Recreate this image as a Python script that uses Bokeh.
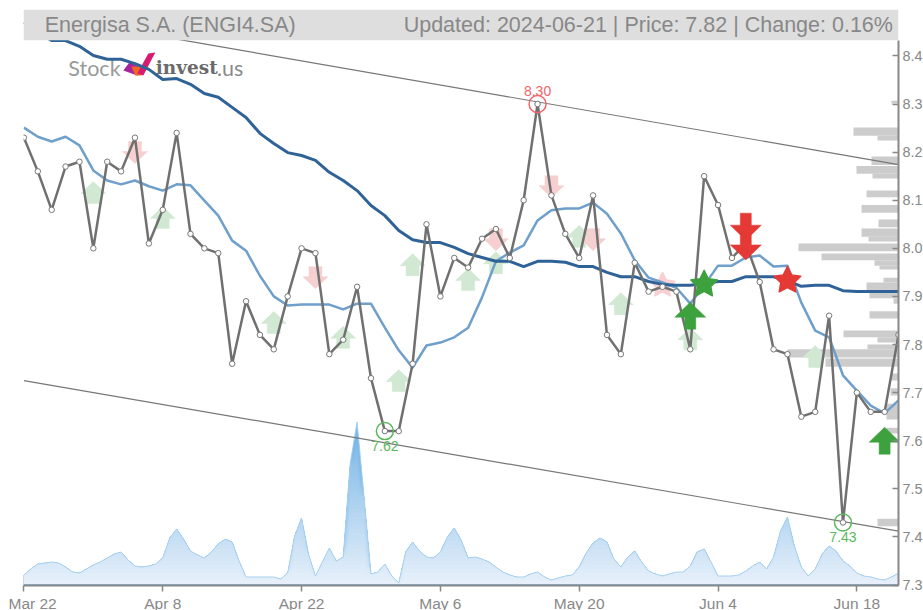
from bokeh.plotting import figure
from bokeh.embed import file_html
from bokeh.resources import INLINE
from bokeh.core.properties import value
from bokeh.models import Range1d, FixedTicker, BoxAnnotation, Label, NumeralTickFormatter
import numpy as np

tick_days = [0, 10, 20, 30, 40, 50, 60]
tick_labels = ["Mar 22", "Apr 8", "Apr 22", "May 6", "May 20", "Jun 4", "Jun 18"]
price_ticks = [7.3, 7.4, 7.5, 7.6, 7.7, 7.8, 7.9, 8.0, 8.1, 8.2, 8.3, 8.4]

price = [8.23, 8.16, 8.08, 8.17, 8.18, 8.00, 8.18, 8.16, 8.23, 8.01, 8.08, 8.24, 8.03, 8.00, 7.99, 7.76,
         7.89, 7.82, 7.79, 7.90, 8.00, 7.99, 7.78, 7.81, 7.92, 7.73, 7.62, 7.62, 7.76, 8.05, 7.90, 7.98,
         7.96, 8.02, 8.04, 7.98, 8.10, 8.30, 8.11, 8.03, 7.98, 8.11, 7.82, 7.78, 7.97, 7.91, 7.92, 7.91,
         7.79, 8.15, 8.09, 7.98, 8.01, 7.93, 7.79, 7.78, 7.65, 7.66, 7.86, 7.43, 7.70, 7.66, 7.66, 7.82]

ma_short = [8.251, 8.232, 8.222, 8.232, 8.214, 8.162, 8.141, 8.133, 8.141, 8.129, 8.120, 8.133, 8.131, 8.099, 8.068, 8.016,
            7.995, 7.943, 7.900, 7.881, 7.883, 7.883, 7.883, 7.873, 7.885, 7.885, 7.835, 7.788, 7.752, 7.798, 7.804, 7.815,
            7.835, 7.898, 7.973, 7.991, 8.006, 8.058, 8.079, 8.083, 8.083, 8.095, 8.072, 8.031, 7.975, 7.939, 7.929, 7.918,
            7.885, 7.923, 7.964, 7.964, 7.981, 7.985, 7.962, 7.964, 7.887, 7.829, 7.815, 7.736, 7.704, 7.673, 7.657, 7.684]

ma_long = [8.47, 8.45, 8.432, 8.432, 8.420, 8.401, 8.393, 8.393, 8.384, 8.372, 8.351, 8.353, 8.341, 8.322, 8.314, 8.293,
           8.272, 8.239, 8.218, 8.199, 8.193, 8.183, 8.158, 8.141, 8.120, 8.089, 8.068, 8.037, 8.018, 8.012, 8.012, 8.002,
           7.989, 7.981, 7.973, 7.973, 7.962, 7.973, 7.973, 7.971, 7.962, 7.962, 7.950, 7.941, 7.941, 7.931, 7.925, 7.923,
           7.923, 7.927, 7.931, 7.931, 7.941, 7.941, 7.941, 7.933, 7.921, 7.923, 7.923, 7.912, 7.910, 7.910, 7.910, 7.910]

channel_days = [0, 63]
channel_upper = [8.490, 8.174]
channel_lower = [7.725, 7.412]

# daily volume, sampled every half day
volume = [10, 16, 21, 22, 23, 22, 18, 13, 12, 16, 20, 23, 27, 31, 33, 25, 19, 18, 19, 21, 27, 47, 56, 46, 34, 30, 27, 33,
          41, 46, 43, 24, 8, 8, 8, 8, 8, 6, 12, 49, 67, 31, 9, 23, 37, 24, 28, 121, 163, 88, 11, 13, 21, 9, 2, 33, 43, 34,
          28, 27, 33, 48, 57, 45, 27, 28, 26, 23, 18, 13, 10, 8, 8, 11, 13, 8, 5, 7, 9, 10, 18, 32, 42, 47, 43, 26, 18, 28,
          34, 23, 14, 11, 9, 11, 13, 13, 19, 33, 36, 23, 9, 9, 9, 10, 14, 19, 23, 16, 28, 54, 68, 39, 18, 9, 16, 31, 39, 34,
          24, 19, 12, 9, 8, 6, 5, 8, 12]

# volume-by-price profile
profile_low = [8.301, 8.234, 8.224, 8.173, 8.155, 8.145, 8.106, 8.074, 8.044, 8.024, 8.014, 7.994, 7.975, 7.964, 7.956,
               7.929, 7.912, 7.896, 7.885, 7.854, 7.815, 7.804, 7.790, 7.773, 7.754, 7.725, 7.694, 7.644, 7.615, 7.422]
profile_high = [8.307, 8.251, 8.234, 8.191, 8.171, 8.155, 8.120, 8.090, 8.060, 8.041, 8.024, 8.010, 7.989, 7.975, 7.964,
                7.939, 7.929, 7.912, 7.896, 7.869, 7.829, 7.815, 7.800, 7.790, 7.771, 7.740, 7.709, 7.677, 7.627, 7.438]
profile_size = [7, 45, 21, 27, 42, 26, 32, 37, 20, 37, 30, 100, 77, 24, 19, 15, 32, 29, 5, 29, 55, 21, 31, 111, 73, 8, 8, 12, 12, 21]

pale_up_days = [5, 10, 18, 23, 27, 28, 32, 34, 40, 43, 48, 57]
pale_up_price = [8.116, 8.064, 7.846, 7.815, 7.725, 7.966, 7.935, 7.970, 8.025, 7.885, 7.812, 7.775]
pale_down_days = [8, 21, 34, 38, 41]
pale_down_price = [8.199, 7.939, 8.018, 8.128, 8.018]
strong_down_days = [52, 52]
strong_down_price = [8.045, 8.004]
strong_up_days = [48, 62]
strong_up_price = [7.860, 7.600]
pale_star_days = [46]
pale_star_price = [7.923]
green_star_days = [49]
green_star_price = [7.925]
red_star_days = [55]
red_star_price = [7.933]

high_days = [37]
high_price = [8.30]
high_text = ["8.30"]
low_days = [26, 59]
low_price = [7.62, 7.43]
low_text = ["7.62", "7.43"]

title_left = "Energisa S.A. (ENGI4.SA)"
title_right = "Updated: 2024-06-21 | Price: 7.82 | Change: 0.16%"

# ---------------------------------------------------------------
PX_X = 63.03 / 875
PX_Y = 1 / 481
GREY = "#888888"
FONT = "Liberation Sans"

p = figure(width=915, height=602, output_backend="svg", toolbar_location=None,
           frame_width=875, frame_height=576, margin=(8, 0, 0, 8),
           x_range=Range1d(-0.03, 63.0), y_range=Range1d(7.299, 8.4965),
           y_axis_location="right", min_border_left=15, min_border_top=1,
           min_border_right=25, min_border_bottom=25)
p.outline_line_color = None
p.grid.visible = False
p.background_fill_color = "white"
p.border_fill_color = "white"
p.extra_y_ranges = {"vol": Range1d(-0.5, 575.5)}
p.extra_x_ranges = {"prof": Range1d(875, 0)}

yax = p.yaxis[0]
yax.ticker = FixedTicker(ticks=price_ticks)
yax.formatter = NumeralTickFormatter(format="0.0")
yax.bounds = (7.2865, 8.432)
yax.axis_line_color = GREY
yax.axis_line_width = 2
yax.major_tick_line_color = GREY
yax.major_tick_line_width = 1.5
yax.major_tick_in = 6
yax.major_tick_out = 0
yax.minor_tick_line_color = None
yax.major_label_text_color = GREY
yax.major_label_text_font = FONT
yax.major_label_text_font_size = "14.4px"
yax.major_label_standoff = 4

xax = p.xaxis[0]
xax.ticker = FixedTicker(ticks=tick_days)
xax.major_label_overrides = dict(zip(tick_days, tick_labels))
xax.axis_line_color = GREY
xax.axis_line_width = 2
xax.major_tick_line_color = GREY
xax.major_tick_line_width = 1.5
xax.major_tick_in = 0
xax.major_tick_out = 6
xax.minor_tick_line_color = None
xax.major_label_text_color = GREY
xax.major_label_text_font = FONT
xax.major_label_text_font_size = "15.5px"
xax.major_label_standoff = 3

# volume area with vertical gradient (painted from the tallest band down)
vol = np.array(volume, dtype=float)
vol_days = np.arange(len(vol)) / 2
lo, hi = np.array([0xea, 0xf2, 0xfb]), np.array([0x74, 0xb4, 0xe6])
for h in range(164, 0, -4):
    t = h / 164
    c = lo + (hi - lo) * t
    p.varea(x=vol_days, y1=np.zeros_like(vol), y2=np.minimum(vol, h),
            fill_color="#%02x%02x%02x" % tuple(int(v) for v in c), y_range_name="vol")
p.line(vol_days, vol, line_color="#a6d0ef", line_width=1, line_join="round", y_range_name="vol")
p.line(vol_days, np.zeros_like(vol), line_color="#8abde3", line_width=2, y_range_name="vol")

# price profile
p.quad(left=profile_size, right=[0] * len(profile_size), bottom=profile_low, top=profile_high,
       fill_color="#cccccc", line_color=None, x_range_name="prof")

# channel
p.line(channel_days, channel_upper, line_color="#777777", line_width=1.2)
p.line(channel_days, channel_lower, line_color="#777777", line_width=1.2)


def arrows(days, prices, up, w, h, sw, head, color):
    sx = [0, w / 2, sw / 2, sw / 2, -sw / 2, -sw / 2, -w / 2]
    sy = [h / 2, h / 2 - head, h / 2 - head, -h / 2, -h / 2, h / 2 - head, h / 2 - head]
    sign = 1 if up else -1
    xs = [[d + v * PX_X for v in sx] for d in days]
    ys = [[q + sign * v * PX_Y for v in sy] for q in prices]
    p.patches(xs, ys, fill_color=color, line_color=color, line_width=0.5)


def stars(days, prices, r_out, r_in, color):
    ang = np.pi / 2 + np.arange(10) * np.pi / 5
    rad = np.where(np.arange(10) % 2 == 0, r_out, r_in)
    sx, sy = rad * np.cos(ang), rad * np.sin(ang)
    xs = [list(d + sx * PX_X) for d in days]
    ys = [list(q + sy * PX_Y) for q in prices]
    p.patches(xs, ys, fill_color=color, line_color=color, line_width=1.5, line_join="round")


# logo
logo_price = 7.3 + (584.5 - 67) / 481
p.text([3.2], [logo_price], text=["Stock"], text_font=value("Lato"), text_font_size="21.5px",
       text_color="#9a9a9a", text_baseline="middle")
p.text([9.5], [logo_price], text=["invest"], text_font=value("DejaVu Serif"), text_font_style="bold",
       text_font_size="18.5px", text_color="#6a6a6a", text_baseline="middle")
p.text([13.9], [logo_price], text=[".us"], text_font=value("Lato"), text_font_size="21.5px",
       text_color="#8a8a8a", text_baseline="middle")
lx = lambda px: [(v - 23.6) * PX_X for v in px]
ly = lambda py: [7.3 + (584.5 - v) * PX_Y for v in py]
p.patch(lx([123, 129, 143, 137]), ly([70, 62, 68, 75]), fill_color="#a6249c", line_color=None)
p.patch(lx([131, 145, 141, 135]), ly([66, 66, 75, 75]), fill_color="#f26522", line_color=None)
p.patch(lx([148, 155, 143, 137]), ly([53, 52, 75, 73]), fill_color="#d81b72", line_color=None)

# pale signals (below the lines)
arrows(pale_up_days, pale_up_price, True, 25, 22, 13, 12, "#d1e8d2")
arrows(pale_down_days, pale_down_price, False, 25, 22, 13, 12, "#f6d0d0")
stars(pale_star_days, pale_star_price, 13, 6.5, "#f8d0d2")

# lines
days = list(range(64))
p.line(days, ma_short, line_color="#6f9fcb", line_width=2.5, line_join="round")
p.line(days, ma_long, line_color="#2f6398", line_width=3, line_join="round")
p.line(days, price, line_color="#707070", line_width=2.5, line_join="round")
p.scatter(days, price, marker="circle", size=5.5, fill_color="white", line_color="#777777", line_width=1)

# high / low marks
p.scatter(high_days, high_price, marker="circle", size=17, fill_color=None, line_color="#f0646a", line_width=1.5)
p.scatter(low_days, low_price, marker="circle", size=17, fill_color=None, line_color="#5cb85c", line_width=1.5)
p.text(high_days, high_price, text=high_text, text_color="#f0646a", text_font=value(FONT), text_font_size="14px",
       text_align="center", text_baseline="middle", y_offset=-13)
p.text(low_days, low_price, text=low_text, text_color="#5cb85c", text_font=value(FONT), text_font_size="14px",
       text_align="center", text_baseline="middle", y_offset=15)

# strong signals
arrows(strong_down_days, strong_down_price, False, 31, 27, 11, 15, "#e53935")
arrows(strong_up_days, strong_up_price, True, 31, 27, 11, 15, "#3da13d")
stars(green_star_days, green_star_price, 14, 7, "#3da13d")
stars(red_star_days, red_star_price, 14, 7, "#e53935")

# header
p.add_layout(BoxAnnotation(bottom=8.4325, fill_color="#dedede", fill_alpha=1, line_color=None))
p.add_layout(Label(x=1.5, y=8.4635, text=title_left, text_color="#888888", text_font=FONT,
                   text_font_size="21.5px", text_baseline="middle"))
p.add_layout(Label(x=62.6, y=8.4635, text=title_right, text_color="#888888", text_font=FONT,
                   text_font_size="21.5px", text_baseline="middle", text_align="right"))

open("out.html", "w").write(file_html(p, INLINE))
